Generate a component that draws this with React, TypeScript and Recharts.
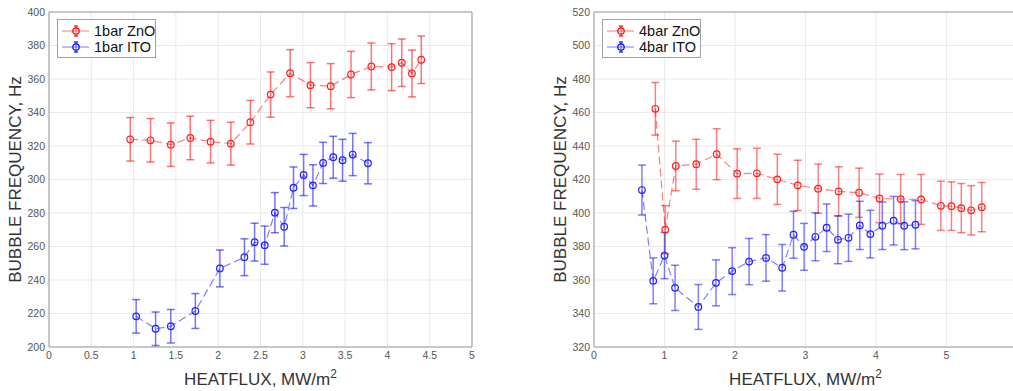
import React from "react";
import {
  ScatterChart,
  Scatter,
  XAxis,
  YAxis,
  CartesianGrid,
  ErrorBar,
  ReferenceArea,
} from "recharts";

// 1 bar
const zno1X = [0.96, 1.2, 1.44, 1.67, 1.91, 2.15, 2.38, 2.62, 2.85, 3.09, 3.33, 3.57, 3.81, 4.05, 4.17, 4.29, 4.4];
const zno1Y = [324.0, 323.4, 320.8, 324.8, 322.6, 321.4, 334.2, 350.7, 363.5, 356.3, 355.7, 362.7, 367.5, 367.1, 369.7, 363.3, 371.5];
const zno1E = [13, 13, 13, 13, 12.7, 12.8, 13, 13.5, 14, 13.5, 13.5, 13.8, 14, 14, 14.2, 14, 14.2];

const ito1X = [1.03, 1.26, 1.44, 1.73, 2.02, 2.31, 2.43, 2.55, 2.67, 2.78, 2.89, 3.01, 3.12, 3.24, 3.36, 3.47, 3.59, 3.77];
const ito1Y = [218.3, 210.9, 212.4, 221.5, 246.9, 253.6, 262.6, 260.8, 280.2, 271.8, 295.1, 302.7, 296.5, 309.9, 313.3, 311.5, 314.9, 309.7];
const ito1E = [10, 10, 10, 10.4, 11, 11, 11.3, 11.4, 12, 11.5, 12.4, 12.3, 12.3, 12.3, 12.5, 12.5, 12.6, 12.3];

// 4 bar
const zno4X = [0.87, 1.01, 1.16, 1.45, 1.74, 2.03, 2.31, 2.6, 2.89, 3.18, 3.47, 3.76, 4.05, 4.35, 4.64, 4.92, 5.07, 5.21, 5.35, 5.5];
const zno4Y = [462.2, 390.0, 428.1, 429.1, 435.1, 423.5, 423.7, 420.1, 416.5, 414.5, 412.9, 412.1, 408.7, 408.3, 408.1, 404.3, 404.1, 402.9, 401.6, 403.5];
const zno4E = [15.7, 14.4, 14.8, 14.9, 15.2, 14.8, 15, 15, 15, 14.7, 14.7, 14.7, 14.5, 14.7, 14.9, 14.7, 14.5, 14.7, 14.7, 14.7];

const ito4X = [0.68, 0.84, 1.0, 1.15, 1.48, 1.73, 1.96, 2.2, 2.44, 2.67, 2.83, 2.98, 3.14, 3.3, 3.46, 3.61, 3.77, 3.92, 4.09, 4.25, 4.4, 4.56];
const ito4Y = [413.7, 359.5, 374.6, 355.3, 343.9, 358.3, 365.3, 371.0, 373.2, 367.3, 387.0, 379.8, 385.8, 391.2, 384.0, 385.2, 392.6, 387.4, 392.4, 395.4, 392.4, 393.0];
const ito4E = [14.9, 13.7, 13.8, 13.5, 13.4, 13.7, 14, 13.8, 13.9, 13.9, 14, 14, 14.3, 14.2, 14.3, 14.1, 14.4, 14.2, 14.2, 14.5, 14.3, 14.4];

const ticks1X = [0, 0.5, 1, 1.5, 2, 2.5, 3, 3.5, 4, 4.5, 5];
const ticks1Y = [200, 220, 240, 260, 280, 300, 320, 340, 360, 380, 400];
const ticks4X = [0, 1, 2, 3, 4, 5];
const ticks4Y = [320, 340, 360, 380, 400, 420, 440, 460, 480, 500, 520];

const pts = (xs: number[], ys: number[], es: number[]) =>
  xs.map((x, i) => ({ x, y: ys[i], e: es[i] }));

const FONT = "'Liberation Sans', Arial, Helvetica, sans-serif";
const TICK = { fontSize: 10.5, fill: "#555", fontFamily: FONT };

const ring = (color: string) => (p: any) =>
  <circle cx={p.cx} cy={p.cy} r={3.3} fill="none" stroke={color} strokeWidth={1.2} />;

const yLabel = (p: any) => {
  const vb = p.viewBox;
  const cx = vb.x + vb.width - 34;
  const cy = vb.y + vb.height / 2;
  return (
    <text x={cx} y={cy} transform={`rotate(-90 ${cx} ${cy})`} textAnchor="middle"
      dominantBaseline="central" fontSize={17} fill="#333" fontFamily={FONT}>
      BUBBLE FREQUENCY, Hz
    </text>
  );
};

const xLabel = (p: any) => {
  const vb = p.viewBox;
  return (
    <text x={vb.x + vb.width / 2} y={vb.y + 38} textAnchor="middle" fontSize={17} fill="#333" fontFamily={FONT}>
      HEATFLUX, MW/m<tspan fontSize={12} dy={-7}>2</tspan>
    </text>
  );
};

const RED_LINE = { stroke: "rgba(255,0,0,0.5)", strokeWidth: 1.2, strokeDasharray: "8 4" };
const BLUE_LINE = { stroke: "rgba(0,0,255,0.5)", strokeWidth: 1.2, strokeDasharray: "8 4" };

function LegendBox({ left, names }: { left: number; names: string[] }) {
  const colors = [
    ["rgba(255,0,0,0.45)", "#ff0000"],
    ["rgba(0,0,255,0.45)", "#0000ff"],
  ];
  return (
    <div style={{
      position: "absolute", left, top: 19, width: 97, height: 37, border: "1px solid #a0a0a0",
      background: "#fff", fontFamily: FONT, color: "#111",
    }}>
      {names.map((n, i) => (
        <div key={n} style={{ position: "absolute", left: 3, top: 3 + i * 16, height: 16, display: "flex", alignItems: "center" }}>
          <svg width={30} height={16}>
            <line x1={1} y1={8} x2={28} y2={8} stroke={colors[i][0]} strokeWidth={1.2} />
            <line x1={15} y1={3} x2={15} y2={13} stroke={colors[i][0]} strokeWidth={1.5} />
            <line x1={13} y1={3} x2={17} y2={3} stroke={colors[i][1]} strokeWidth={1.2} />
            <line x1={13} y1={13} x2={17} y2={13} stroke={colors[i][1]} strokeWidth={1.2} />
            <circle cx={15} cy={8} r={3.2} fill="none" stroke={colors[i][1]} strokeWidth={1.2} />
          </svg>
          <span style={{ marginLeft: 3, lineHeight: "16px", fontSize: "14.5px", whiteSpace: "nowrap" }}>{n}</span>
        </div>
      ))}
    </div>
  );
}

export default function App() {
  return (
    <div style={{ position: "absolute", left: 0, top: 0, width: 1013, height: 391, overflow: "hidden", background: "#fff" }}>
      <div style={{ position: "absolute", left: 0, top: 0 }}>
        <ScatterChart width={500} height={391} margin={{ top: 12, right: 28, bottom: 0, left: 0 }}>
          <CartesianGrid stroke="#e9e9e9" />
          <XAxis type="number" dataKey="x" domain={[0, 5]} ticks={ticks1X} tick={TICK} axisLine={false}
            tickLine={false} tickSize={0} tickMargin={5} height={44} label={{ content: xLabel }} />
          <YAxis type="number" dataKey="y" domain={[200, 400]} ticks={ticks1Y} tick={TICK} axisLine={false}
            tickLine={false} tickSize={0} tickMargin={4} width={49} label={{ content: yLabel }} />
          <ReferenceArea x1={0} x2={5} y1={200} y2={400} fill="none" stroke="#9a9a9a" strokeWidth={1} />
          <Scatter data={pts(zno1X, zno1Y, zno1E)} line={RED_LINE} lineType="joint" shape={ring("#ff2020")} isAnimationActive={false}>
            <ErrorBar dataKey="e" direction="y" width={4} stroke="rgba(255,0,0,0.55)" strokeWidth={1.5} />
          </Scatter>
          <Scatter data={pts(ito1X, ito1Y, ito1E)} line={BLUE_LINE} lineType="joint" shape={ring("#2020ff")} isAnimationActive={false}>
            <ErrorBar dataKey="e" direction="y" width={4} stroke="rgba(0,0,255,0.55)" strokeWidth={1.5} />
          </Scatter>
        </ScatterChart>
      </div>
      <LegendBox left={57} names={["1bar ZnO", "1bar ITO"]} />

      <div style={{ position: "absolute", left: 510, top: 0, width: 503, height: 391, overflow: "hidden" }}>
        <ScatterChart width={507} height={391} margin={{ top: 12, right: 0, bottom: 0, left: 0 }}>
          <CartesianGrid stroke="#e9e9e9" />
          <XAxis type="number" dataKey="x" domain={[0, 6]} ticks={ticks4X} tick={TICK} axisLine={false}
            tickLine={false} tickSize={0} tickMargin={5} height={44} label={{ content: xLabel }} />
          <YAxis type="number" dataKey="y" domain={[320, 520]} ticks={ticks4Y} tick={TICK} axisLine={false}
            tickLine={false} tickSize={0} tickMargin={4} width={84} label={{ content: yLabel }} />
          <ReferenceArea x1={0} x2={6} y1={320} y2={520} fill="none" stroke="#9a9a9a" strokeWidth={1} />
          <Scatter data={pts(zno4X, zno4Y, zno4E)} line={RED_LINE} lineType="joint" shape={ring("#ff2020")} isAnimationActive={false}>
            <ErrorBar dataKey="e" direction="y" width={4} stroke="rgba(255,0,0,0.5)" strokeWidth={1.5} />
          </Scatter>
          <Scatter data={pts(ito4X, ito4Y, ito4E)} line={BLUE_LINE} lineType="joint" shape={ring("#2020ff")} isAnimationActive={false}>
            <ErrorBar dataKey="e" direction="y" width={4} stroke="rgba(0,0,255,0.5)" strokeWidth={1.5} />
          </Scatter>
        </ScatterChart>
      </div>
      <LegendBox left={602} names={["4bar ZnO", "4bar ITO"]} />
    </div>
  );
}
